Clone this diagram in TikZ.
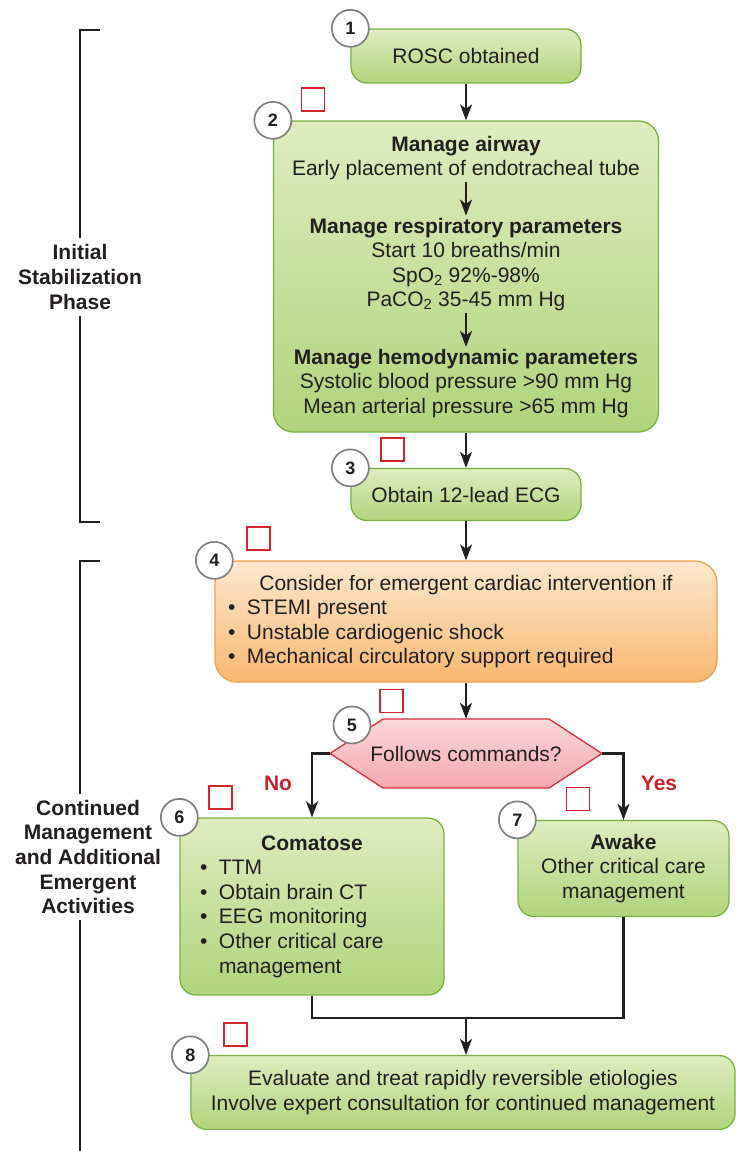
\documentclass[tikz,border=0pt]{standalone}
\usepackage{fontspec}
\setmainfont{Liberation Sans}
\usetikzlibrary{arrows.meta,positioning}

\definecolor{ink}{RGB}{35,31,32}
\definecolor{grtop}{RGB}{222,236,192}
\definecolor{grbot}{RGB}{176,212,124}
\definecolor{grline}{RGB}{122,176,66}
\definecolor{ortop}{RGB}{253,231,207}
\definecolor{orbot}{RGB}{248,184,112}
\definecolor{orline}{RGB}{238,160,76}
\definecolor{pktop}{RGB}{251,214,217}
\definecolor{pkbot}{RGB}{244,168,177}
\definecolor{pkline}{RGB}{214,48,64}
\definecolor{sqred}{RGB}{211,36,48}
\definecolor{nored}{RGB}{204,32,45}
\definecolor{ringgray}{RGB}{128,128,128}

\newcommand{\boxfont}{\fontsize{21pt}{24.6pt}\selectfont}
\newcommand{\numfont}{\fontsize{18pt}{18pt}\selectfont\bfseries}
\newcommand{\blt}[1]{\par\hangindent=19pt\hangafter=1\noindent\makebox[19pt][l]{\textbullet}#1}

\begin{document}
\begin{tikzpicture}[x=1pt,y=-1pt,color=ink,font=\boxfont,
    greenbox/.style={draw=grline, line width=1.3pt, top color=grtop, bottom color=grbot,
      rounded corners=16pt, align=center, inner sep=0pt},
    orangebox/.style={greenbox, draw=orline, top color=ortop, bottom color=orbot},
    hexfill/.style={draw=pkline, line width=1.3pt, top color=pktop, bottom color=pkbot},
    txt/.style={align=center, inner sep=2pt},
    numring/.style={circle, draw=ringgray, line width=1.7pt, fill=white,
      minimum size=37pt, inner sep=0pt, font=\numfont},
    chkbox/.style={draw=sqred, line width=1.6pt, fill=white, minimum size=23pt, inner sep=0pt},
    arr/.style={draw=ink, line width=2.2pt, -{Stealth[length=16pt,width=12pt,inset=4.5pt]}},
    link/.style={draw=ink, line width=2.2pt},
    brk/.style={draw=ink, line width=2.2pt},
    phase/.style={align=center, font=\boxfont\bfseries, inner sep=6pt},
    ans/.style={font=\boxfont\bfseries, text=nored}]
  \useasboundingbox (0,0) rectangle (736,1151);

  % phase brackets
  \node[phase] (ph1) at (80,277) {Initial\\Stabilization\\Phase};
  \node[phase] (ph2) at (88,857) {Continued\\Management\\and Additional\\Emergent\\Activities};
  \coordinate (k1) at (80,30);
  \coordinate (k2) at (80,522);
  \coordinate (k3) at (80,561);
  \draw[brk] ([xshift=20pt]k1) -- (k1) -- (k1 |- ph1.north);
  \draw[brk] (k2 |- ph1.south) -- (k2) -- ([xshift=20pt]k2);
  \draw[brk] ([xshift=20pt]k3) -- (k3) -- (k3 |- ph2.north);
  \draw[brk] (k3 |- ph2.south) -- (80,1151);

  % boxes
  \node[greenbox, minimum width=230pt, minimum height=54pt] (b1) at (466,56) {ROSC obtained};
  \node[greenbox, minimum width=385pt, minimum height=311pt, rounded corners=20pt] (b2) at (466,276.5) {};
  \node[txt] (air) at (466,158) {\textbf{Manage airway}\\Early placement of endotracheal tube};
  \node[txt] (resp) at (466,264.5) {\textbf{Manage respiratory parameters}\\Start 10 breaths/min\\
    SpO\textsubscript{2} 92\%-98\%\\PaCO\textsubscript{2} 35-45 mm Hg};
  \node[txt] (hemo) at (466,383.5) {\textbf{Manage hemodynamic parameters}\\
    Systolic blood pressure >90 mm Hg\\Mean arterial pressure >65 mm Hg};
  \node[greenbox, minimum width=230pt, minimum height=52pt] (b3) at (466,494.5) {Obtain 12-lead ECG};
  \node[orangebox, minimum width=502pt, minimum height=121pt, rounded corners=22pt,
    text width=476pt, align=none] (b4) at (466,621.5) {%
    {\noindent\centering Consider for emergent cardiac intervention if\par}\raggedright
    \blt{STEMI present}\blt{Unstable cardiogenic shock}\blt{Mechanical circulatory support required}\par};

  \coordinate (dqc) at (466,753.5);
  \draw[hexfill] ([xshift=-136pt]dqc) -- ([shift={(-83,-34.5)}]dqc) -- ([shift={(83,-34.5)}]dqc)
    -- ([xshift=136pt]dqc) -- ([shift={(83,34.5)}]dqc) -- ([shift={(-83,34.5)}]dqc) -- cycle;
  \node[minimum width=272pt, minimum height=69pt, inner sep=0pt] (dq) at (dqc) {Follows commands?};

  \node[greenbox, minimum width=264pt, minimum height=177pt, text width=224pt, align=none] (b6) at (312,906.5) {%
    {\noindent\centering\textbf{Comatose}\par}\raggedright
    \blt{TTM}\blt{Obtain brain CT}\blt{EEG monitoring}\blt{Other critical care\newline management}\par};
  \node[greenbox, minimum width=211pt, minimum height=96pt] (b7) at (623.5,868.5)
    {\textbf{Awake}\\Other critical care\\management};
  \node[greenbox, minimum width=544pt, minimum height=74pt] (b8) at (463,1092.5)
    {Evaluate and treat rapidly reversible etiologies\\Involve expert consultation for continued management};

  % connectors
  \draw[arr] (b1.south) -- (b2.north);
  \draw[arr] (air.south) -- (resp.north);
  \draw[arr] (resp.south) -- (hemo.north);
  \draw[arr] (b2.south) -- (b3.north);
  \draw[arr] (b3.south) -- (b4.north);
  \draw[arr] (b4.south) -- (dq.north);
  \draw[arr] (dq.west) -| (b6.north);
  \draw[arr] (dq.east) -| (b7.north);
  \coordinate (jn) at (466,1018);
  \draw[link] (b6.south) |- (jn) -| (b7.south);
  \draw[arr] (jn) -- (jn |- b8.north);

  \node[ans] at (278,783) {No};
  \node[ans] at (659,783) {Yes};

  % step numbers
  \node[numring] (n1) at (b1.north west) {1};
  \node[numring] (n2) at (b2.north west) {2};
  \node[numring] (n3) at (b3.north west) {3};
  \node[numring] (n4) at (b4.north west) {4};
  \node[numring] (n5) at (352,725) {5};
  \node[numring] (n6) at (b6.north west) {6};
  \node[numring] (n7) at (b7.north west) {7};
  \node[numring] (n8) at (b8.north west) {8};

  % check boxes
  \node[chkbox] (s2) at (313,99.5) {};
  \node[chkbox] (s3) at (392.5,449.5) {};
  \node[chkbox] (s4) at (258.5,538.5) {};
  \node[chkbox] (s5) at (391.5,701) {};
  \node[chkbox] (s6) at (220.5,797.5) {};
  \node[chkbox] (s7) at (578,799) {};
  \node[chkbox] (s8) at (235.5,1034.5) {};
\end{tikzpicture}
\end{document}
